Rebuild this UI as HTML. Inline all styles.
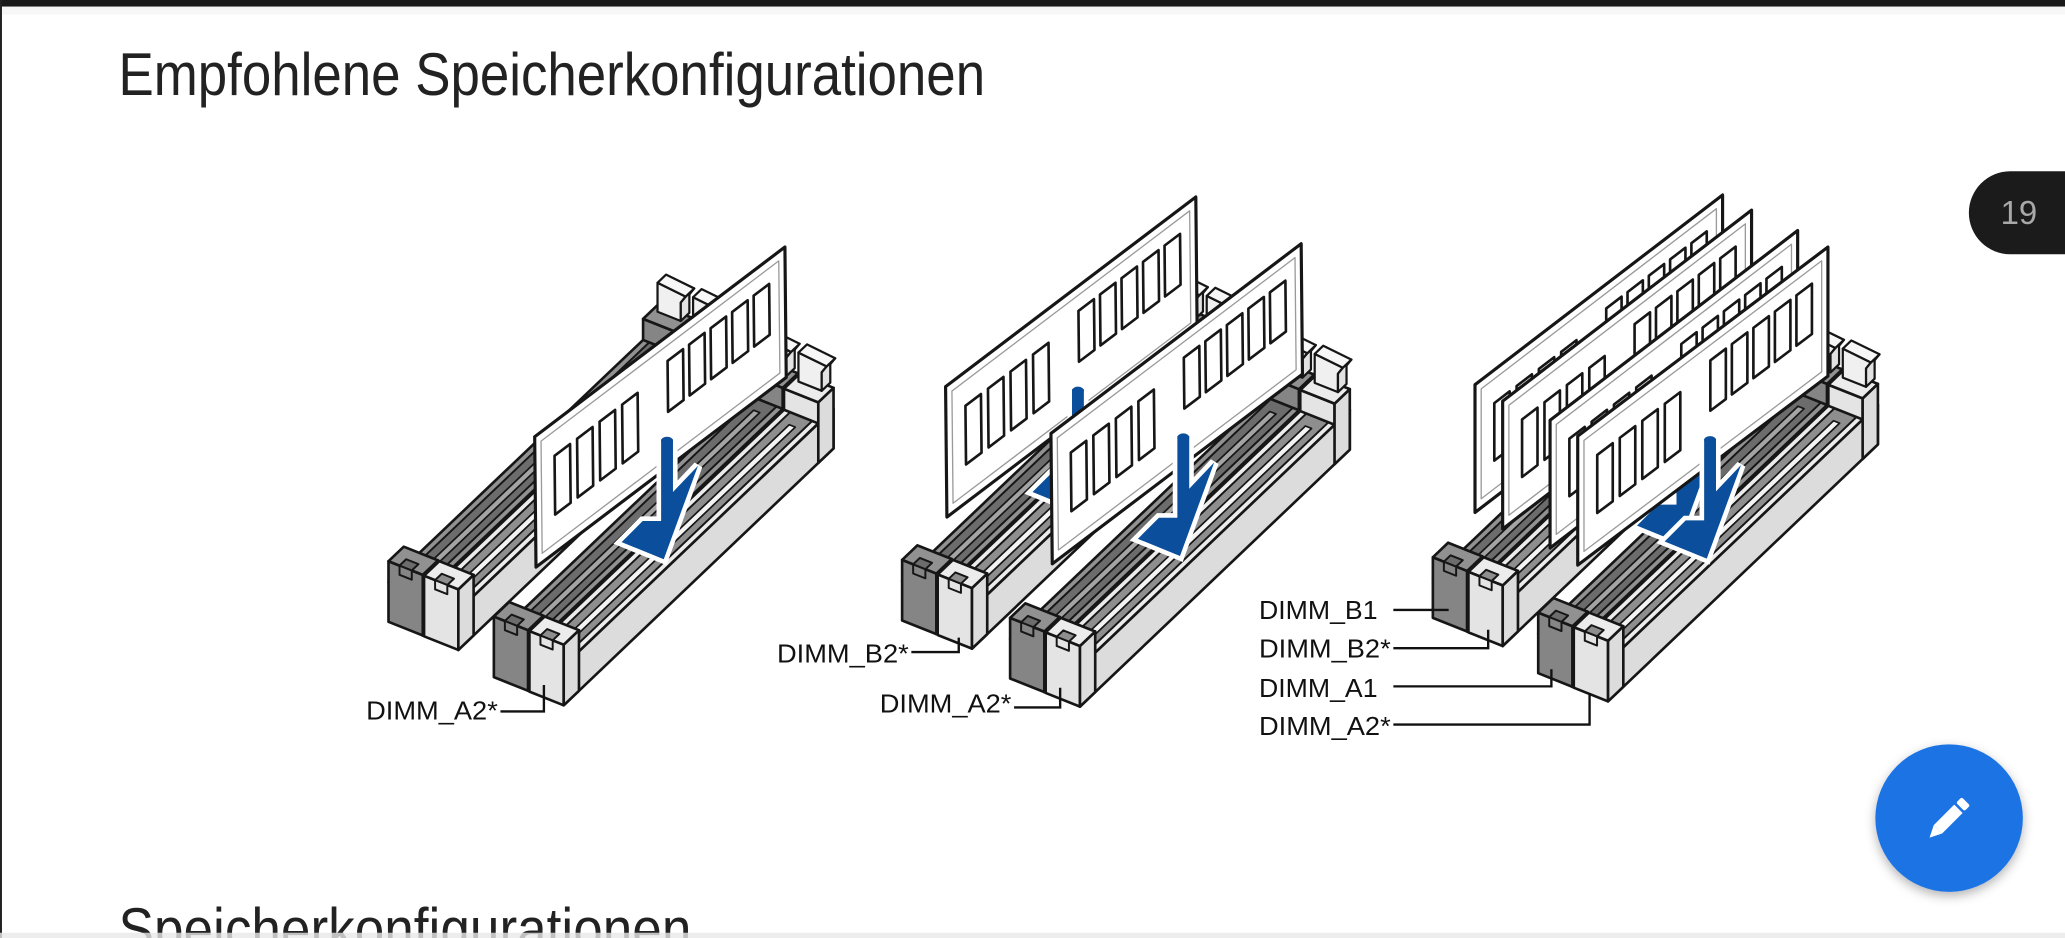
<!DOCTYPE html>
<html><head><meta charset="utf-8">
<style>
html,body{margin:0;padding:0;background:#fff;overflow:hidden}
svg{display:block}
text{font-family:"Liberation Sans",sans-serif}
</style></head>
<body>
<svg id="s" xmlns="http://www.w3.org/2000/svg" width="2065" height="938" viewBox="0 0 1568 712" preserveAspectRatio="none">
<defs>
<filter id="sh" x="-30%" y="-30%" width="160%" height="160%"><feDropShadow dx="0" dy="3" stdDeviation="4" flood-color="#000" flood-opacity="0.3"/></filter>
</defs>
<rect width="1568" height="712" fill="#fff"/>
<rect x="0" y="0" width="1568" height="5" fill="#1a1a1a"/>
<rect x="0" y="5" width="1568" height="6" fill="#f2f2f2" opacity="0.6"/>
<rect x="0" y="0" width="1.5" height="712" fill="#222"/>
<text x="90" y="72" font-size="46" fill="#222" textLength="658" lengthAdjust="spacingAndGlyphs">Empfohlene Speicherkonfigurationen</text>
<text x="90" y="721" font-size="46" fill="#222" textLength="435" lengthAdjust="spacingAndGlyphs">Speicherkonfigurationen</text>
<rect x="0" y="708" width="1568" height="4" fill="#e8e8e8" opacity="0.8"/>
<g id="art"></g>
<g font-size="19.5" fill="#111">
<text x="278" y="546" textLength="100" lengthAdjust="spacingAndGlyphs">DIMM_A2*</text>
<text x="590" y="503" textLength="100" lengthAdjust="spacingAndGlyphs">DIMM_B2*</text>
<text x="668" y="541" textLength="100" lengthAdjust="spacingAndGlyphs">DIMM_A2*</text>
<text x="956" y="470" textLength="90" lengthAdjust="spacingAndGlyphs">DIMM_B1</text>
<text x="956" y="499" textLength="100" lengthAdjust="spacingAndGlyphs">DIMM_B2*</text>
<text x="956" y="529" textLength="90" lengthAdjust="spacingAndGlyphs">DIMM_A1</text>
<text x="956" y="558" textLength="100" lengthAdjust="spacingAndGlyphs">DIMM_A2*</text>
</g>
<g stroke="#111" stroke-width="1.8" fill="none">
<polyline points="380,540 413,540 413,520"/>
<polyline points="692,495 728,495 728,484"/>
<polyline points="770,537 805,537 805,522"/>
<polyline points="1058,463 1100,463"/>
<polyline points="1058,492 1130,492 1130,478"/>
<polyline points="1058,521 1178,521 1178,508"/>
<polyline points="1058,550 1207,550 1207,526"/>
</g>
<rect x="1495" y="130" width="110" height="63" rx="31.5" fill="#1b1b1b"/>
<text x="1533" y="170" font-size="25" fill="#a8a8a8" text-anchor="middle">19</text>
<circle cx="1480" cy="621" r="56" fill="#1a73e3" filter="url(#sh)"/>
<g transform="translate(1480,621) rotate(-45)" fill="#fff">
<rect x="-12" y="-4.5" width="22" height="9"/>
<polygon points="-12,-4.5 -21,0 -12,4.5"/>
<rect x="12" y="-4.5" width="6" height="9" rx="1.5"/>
</g>
</svg>
<script>
(function(){
var NS='http://www.w3.org/2000/svg';
var art=document.getElementById('art');
function el(tag,attrs,parent){var e=document.createElementNS(NS,tag);for(var k in attrs)e.setAttribute(k,attrs[k]);(parent||art).appendChild(e);return e;}
function pts(a){return a.map(function(p){return p[0].toFixed(2)+','+p[1].toFixed(2)}).join(' ');}
function poly(a,fill,sw,stroke){el('polygon',{points:pts(a),fill:fill,stroke:stroke||'#161616','stroke-width':sw==null?2:sw,'stroke-linejoin':'round'});}
var W=28,L=283,H=30,CH=46,CL=16;
function slot(o,dark){
  function P(a,l,z){return [o[0]+a*0.93+l*0.724,o[1]+a*0.37-l*0.689-z];}
  var side=dark?'#7e7e7e':'#dcdcdc',top=dark?'#919191':'#ececec',groove=dark?'#6c6c6c':'#8e8e8e',rail=dark?'#a4a4a4':'#f4f4f4',front=dark?'#858585':'#e4e4e4';
  poly([P(W,0,0),P(W,L,0),P(W,L,H),P(W,0,H)],side);
  poly([P(0,0,H),P(W,0,H),P(W,L,H),P(0,L,H)],top);
  poly([P(5,CL,H),P(23,CL,H),P(23,L-CL,H),P(5,L-CL,H)],groove,1.5);
  poly([P(12,CL+10,H),P(17,CL+10,H),P(17,L-CL-10,H),P(12,L-CL-10,H)],rail,1.3);
  var f=L-CL;
  poly([P(0,f,H),P(W,f,H),P(W,f,CH),P(0,f,CH)],front);
  poly([P(W,f,0),P(W,L,0),P(W,L,CH),P(W,f,CH)],side);
  poly([P(0,f,CH),P(W,f,CH),P(W,L,CH),P(0,L,CH)],top);
  poly([P(4,L-6,CH),P(23,L-6,CH),P(23,L-6,CH+14),P(27,L-6,CH+20),P(4,L-6,CH+22)],'#f0f0f0',1.7);
  poly([P(23,L-6,CH),P(23,L+3,CH),P(23,L+3,CH+14),P(27,L+3,CH+20),P(27,L-6,CH+20),P(23,L-6,CH+14)],'#e2e2e2',1.7);
  poly([P(4,L-6,CH+22),P(27,L-6,CH+20),P(27,L+3,CH+20),P(4,L+3,CH+22)],'#f7f7f7',1.7);
  poly([P(0,0,0),P(W,0,0),P(W,0,CH),P(0,0,CH)],front);
  poly([P(W,0,0),P(W,CL,0),P(W,CL,CH),P(W,0,CH)],side);
  poly([P(0,0,CH),P(W,0,CH),P(W,CL,CH),P(0,CL,CH)],top);
  poly([P(9,0,CH),P(19,0,CH),P(19,0,CH-7),P(9,0,CH-7)],front,1.5);
  poly([P(9,0,CH),P(19,0,CH),P(19,7,CH),P(9,7,CH)],groove,1.5);
}
function module(tl,R,D,chips){
  function M(s,t){return [tl[0]+s*R[0]+t*D[0],tl[1]+s*R[1]+t*D[1]];}
  poly([M(0,0),M(1,0),M(1,1),M(0,1)],'#fff',2.4);
  poly([M(0.025,0.07),M(0.975,0.07),M(0.975,0.93),M(0.025,0.93)],'none',1,'#9a9a9a');
  if(chips){
    for(var i=0;i<4;i++){var s=0.078+i*0.09;poly([M(s,0.26),M(s+0.062,0.26),M(s+0.062,0.71),M(s,0.71)],'#fff',2);}
    for(var j=0;j<5;j++){var s2=0.53+j*0.086;poly([M(s2,0.19),M(s2+0.062,0.19),M(s2+0.062,0.58),M(s2,0.58)],'#fff',2);}
  }
}
function arrow(tl){
  var x=tl[0],y=tl[1];
  var a=[[96,2],[105,2],[105,42],[124,22],[98,93],[66,80],[82,64],[96,64]].map(function(p){return [x+p[0],y+p[1]];});
  el('polygon',{points:pts(a),fill:'#fff',stroke:'#fff','stroke-width':7,'stroke-linejoin':'miter'});
  el('polygon',{points:pts(a),fill:'#0b4f9c',stroke:'none'});
  el('ellipse',{cx:x+100.5,cy:y+3,rx:4.5,ry:3,fill:'#0b4f9c'});
}
function pair(o){slot([o[0]-27,o[1]-11],true);slot(o,false);}
var R=[190,-144],D=[1,99];
pair([322,483]);pair([402,525]);
module([406,331.5],R,D,true);arrow([406,331.5]);
pair([712,482]);pair([794,526]);
module([718,293.5],R,D,true);arrow([718,293.5]);
module([798,329],R,D,true);arrow([798,329]);
pair([1115,480]);pair([1195,522]);
module([1120,292],[188,-144],[0,97],true);
module([1141,304.5],[189,-145],[0,97],true);
module([1177,319],[188,-144],[0,97],true);arrow([1177,319]);
module([1198,331],[190,-143.5],[0,98],true);arrow([1198,331]);
})();
</script>
</body></html>
